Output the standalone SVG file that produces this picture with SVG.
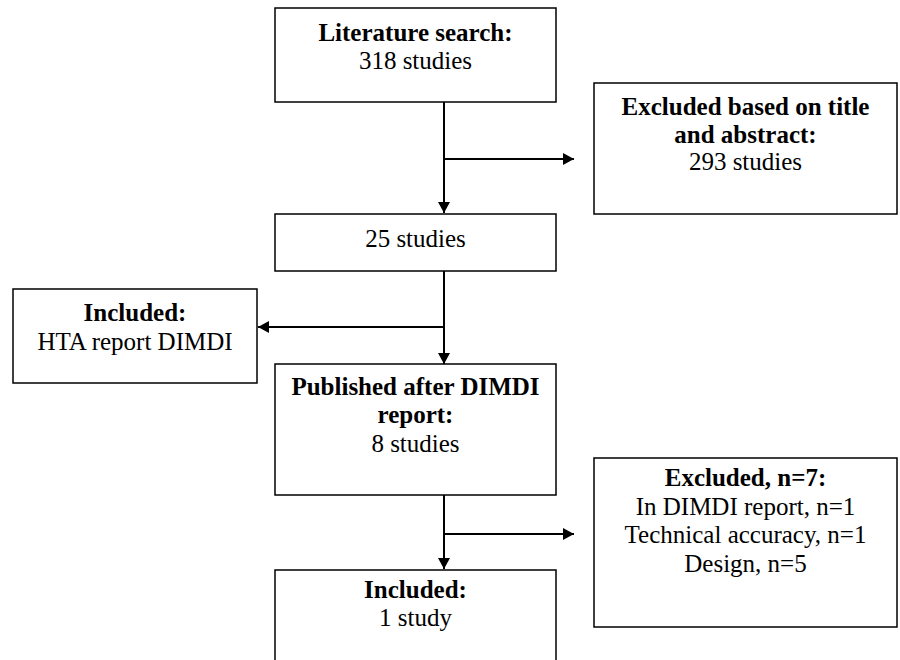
<svg xmlns="http://www.w3.org/2000/svg" width="900" height="660" viewBox="0 0 900 660">
  <style>
    .box { fill: #fff; stroke: #000; stroke-width: 1.5; }
    .t { font-family: "Liberation Serif", "Times New Roman", serif; font-size: 25px; fill: #000; text-anchor: middle; }
    .b { font-weight: bold; }
    .conn { fill: none; stroke: #000; stroke-width: 2; }
  </style>
  <defs>
    <marker id="arr" markerUnits="userSpaceOnUse" markerWidth="12" markerHeight="12" refX="11" refY="6" orient="auto">
      <path d="M0,0 L11,6 L0,12 Z" fill="#000"/>
    </marker>
  </defs>
  <rect width="900" height="660" fill="#fff"/>
  <g id="connectors">
    <line class="conn" x1="444" y1="102" x2="444" y2="213" marker-end="url(#arr)"/>
    <line class="conn" x1="444" y1="159" x2="574" y2="159" marker-end="url(#arr)"/>
    <line class="conn" x1="444" y1="271" x2="444" y2="364" marker-end="url(#arr)"/>
    <line class="conn" x1="444" y1="327" x2="258" y2="327" marker-end="url(#arr)"/>
    <line class="conn" x1="444" y1="495" x2="444" y2="569" marker-end="url(#arr)"/>
    <line class="conn" x1="444" y1="534" x2="574" y2="534" marker-end="url(#arr)"/>
  </g>
  <g id="literature">
    <rect class="box" x="275" y="8" width="281" height="94"/>
    <text class="t b" x="415.5" y="41">Literature search:</text>
    <text class="t" x="415.5" y="69">318 studies</text>
  </g>
  <g id="excluded-title">
    <rect class="box" x="594" y="83" width="303" height="131"/>
    <text class="t b" x="745.5" y="115">Excluded based on title</text>
    <text class="t b" x="745.5" y="143">and abstract:</text>
    <text class="t" x="745.5" y="170">293 studies</text>
  </g>
  <g id="studies25">
    <rect class="box" x="275" y="214" width="281" height="57"/>
    <text class="t" x="415.5" y="247">25 studies</text>
  </g>
  <g id="included-hta">
    <rect class="box" x="13" y="289" width="244" height="94"/>
    <text class="t b" x="135" y="321">Included:</text>
    <text class="t" x="135" y="350">HTA report DIMDI</text>
  </g>
  <g id="published">
    <rect class="box" x="275" y="364" width="281" height="131"/>
    <text class="t b" x="415.5" y="395">Published after DIMDI</text>
    <text class="t b" x="415.5" y="423">report:</text>
    <text class="t" x="415.5" y="452">8 studies</text>
  </g>
  <g id="excluded-n7">
    <rect class="box" x="594" y="458" width="303" height="169"/>
    <text class="t b" x="745.5" y="486">Excluded, n=7:</text>
    <text class="t" x="745.5" y="515">In DIMDI report, n=1</text>
    <text class="t" x="745.5" y="543">Technical accuracy, n=1</text>
    <text class="t" x="745.5" y="572">Design, n=5</text>
  </g>
  <g id="included-final">
    <rect class="box" x="275" y="570" width="281" height="110"/>
    <text class="t b" x="415.5" y="598">Included:</text>
    <text class="t" x="415.5" y="626">1 study</text>
  </g>
</svg>
